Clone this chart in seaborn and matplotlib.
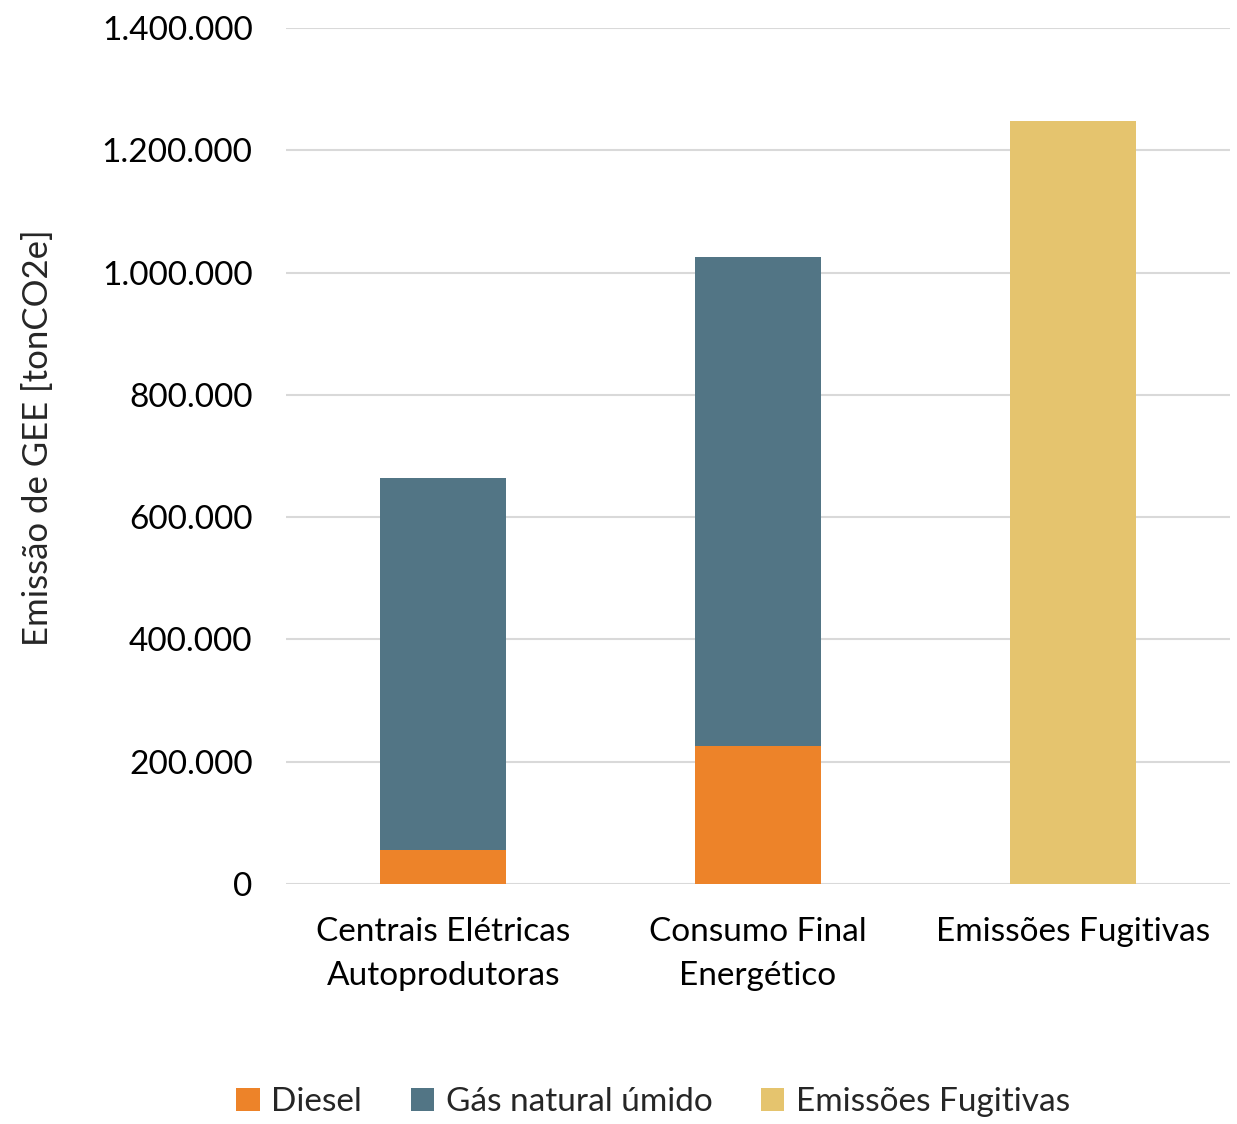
import matplotlib
matplotlib.use("Agg")
import matplotlib.pyplot as plt
import matplotlib.ticker as mticker
from matplotlib.patches import Patch
import seaborn as sns
import pandas as pd

categories = ["Centrais Elétricas\nAutoprodutoras", "Consumo Final\nEnergético", "Emissões Fugitivas"]
diesel = [55200, 226000, 0]
gas_natural = [608700, 800200, 0]
fugitivas = [0, 0, 1247500]
series_names = ["Diesel", "Gás natural úmido", "Emissões Fugitivas"]
colors = ["#ED8329", "#527585", "#E5C46E"]
y_ticks = [0, 200000, 400000, 600000, 800000, 1000000, 1200000, 1400000]

sns.set_theme(style="white")
plt.rcParams["font.family"] = ["Lato", "DejaVu Sans"]

df = pd.DataFrame({
    "cat": categories,
    "diesel": diesel,
    "total_gas": [d + g for d, g in zip(diesel, gas_natural)],
    "fug": fugitivas,
})

fig = plt.figure(figsize=(12.37, 11.24), dpi=100)
ax = fig.add_axes([286/1237, 1 - 884/1124, (1230-286)/1237, (884-28)/1124])

sns.barplot(data=df, x="cat", y="total_gas", order=categories, color=colors[1],
            width=0.4, ax=ax, saturation=1, linewidth=0, zorder=2)
sns.barplot(data=df, x="cat", y="diesel", order=categories, color=colors[0],
            width=0.4, ax=ax, saturation=1, linewidth=0, zorder=3)
sns.barplot(data=df, x="cat", y="fug", order=categories, color=colors[2],
            width=0.4, ax=ax, saturation=1, linewidth=0, zorder=3)

ax.set_ylim(0, 1400000)
ax.set_xlim(-0.5, 2.5)
ax.set_yticks(y_ticks)
ax.yaxis.set_major_formatter(mticker.FuncFormatter(lambda v, p: f"{int(v):,}".replace(",", ".")))
ax.grid(axis="y", color="#D9D9D9", linewidth=1.5, zorder=0)
ax.set_axisbelow(True)
for s in ax.spines.values():
    s.set_visible(False)
ax.tick_params(axis="both", length=0, labelsize=24, colors="black")
ax.tick_params(axis="y", pad=24)
ax.tick_params(axis="x", pad=24)
for lbl in ax.get_xticklabels():
    lbl.set_linespacing(1.55)
ax.set_xlabel("")
ax.set_ylabel("")
fig.text(38/1237, 1 - 438/1124, "Emissão de GEE [tonCO2e]", rotation=90,
         ha="center", va="center", fontsize=25)

handles = [Patch(facecolor=c, edgecolor="none") for c in colors]
fig.legend(handles, series_names, loc="center", bbox_to_anchor=(653/1237, 1 - 1102/1124),
           ncol=3, frameon=False, fontsize=24, handlelength=0.7, handleheight=0.7,
           handletextpad=0.35, columnspacing=1.45)

fig.savefig("out.png", dpi=100)
